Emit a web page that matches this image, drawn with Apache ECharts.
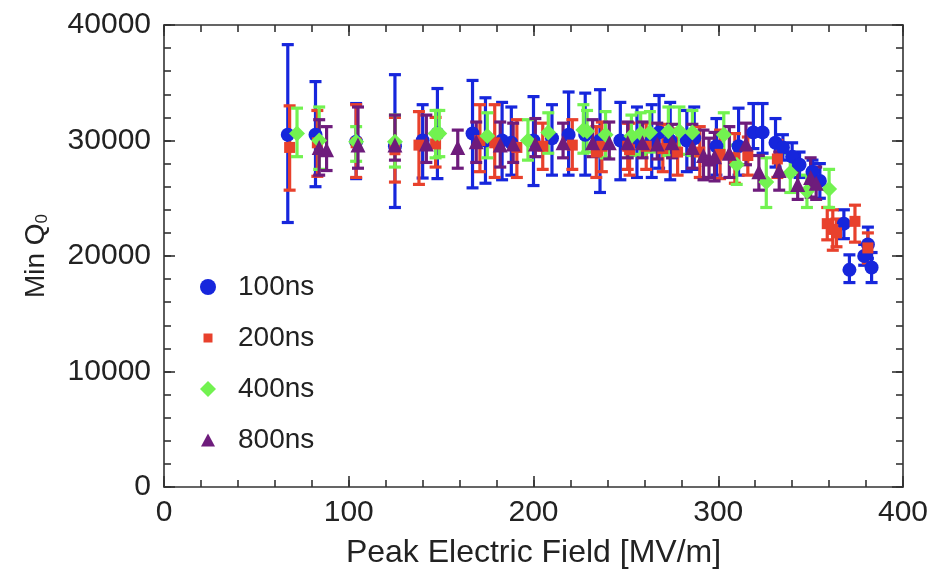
<!DOCTYPE html>
<html>
<head>
<meta charset="utf-8">
<script src="https://cdn.jsdelivr.net/npm/echarts@6/dist/echarts.min.js"></script>
<style>
html,body{margin:0;padding:0;background:#fff;}
#c{width:935px;height:577px;}
</style>
</head>
<body>
<div id="c"></div>
<script>
// ---- data: [field (MV/m), Q0, lower error end, upper error end]
const seriesNames = ['100ns', '200ns', '400ns', '800ns'];

const d100 = [
  [67, 30500, 22900, 38300], [82, 30500, 26000, 35100], [104, 29900, 26700, 33200],
  [125, 29500, 24200, 35700], [140, 30000, 26750, 33100], [148, 30600, 26700, 34500],
  [167, 30600, 25900, 35200], [174, 30000, 26300, 33700], [183, 30000, 26600, 33300],
  [188, 29800, 27000, 32900], [200, 30000, 26100, 33800], [210, 30200, 27000, 33100],
  [219, 30500, 27000, 34200], [228, 30500, 27000, 34100], [236, 30000, 25500, 34400],
  [247, 30000, 26600, 33300], [256, 29900, 26800, 32900], [264, 30000, 26800, 33100],
  [268, 30700, 27600, 33900], [274, 30000, 26600, 33300], [283, 30000, 27300, 32600],
  [287, 30200, 27500, 32900], [299, 29500, 27000, 31900], [311, 29500, 27000, 32800],
  [319, 30700, 29300, 33200], [324, 30700, 28900, 33200], [331, 29800, 27700, 31900],
  [335, 29400, 28300, 30500], [340, 28600, 27400, 29800], [344, 27900, 26800, 29000],
  [351, 27300, 26300, 28300], [355, 26500, 25000, 28000], [368, 22800, 21500, 24000],
  [371, 18800, 17700, 20100], [379, 20000, 19200, 21000], [381, 21000, 19800, 22500],
  [383, 19000, 17700, 20300]
];

const d200 = [
  [68, 29400, 25700, 33000], [83, 29800, 26900, 32600], [104, 29800, 26800, 33100],
  [125, 29200, 26400, 32000], [138, 29600, 26200, 32500], [147, 29700, 27700, 32000],
  [171, 30000, 27300, 33100], [179, 29800, 26800, 33100], [191, 29400, 26800, 31800],
  [205, 29500, 27500, 31500], [221, 29600, 27500, 31800], [234, 29000, 26800, 31200],
  [237, 29500, 27300, 31600], [251, 29500, 27500, 31500], [252, 29200, 27000, 31500],
  [261, 29500, 27500, 31500], [270, 29300, 27300, 31400], [278, 29000, 27000, 31000],
  [290, 29000, 26800, 31200], [301, 28800, 26700, 30900], [309, 28500, 26300, 30600],
  [316, 28700, 27000, 30300], [332, 28400, 26800, 30000], [359, 22800, 21400, 24200],
  [362, 22300, 20500, 24000], [364, 22000, 20800, 23200], [374, 23000, 21200, 24400],
  [381, 20700, 19400, 22000]
];

const d400 = [
  [72, 30600, 28600, 32800], [84, 30000, 27500, 32900], [104, 29900, 28200, 31200],
  [125, 29900, 27700, 32200], [147, 30600, 28500, 32600], [149, 30600, 28600, 32600],
  [175, 30400, 28500, 32400], [197, 30000, 28300, 31800], [208, 30700, 28900, 32400],
  [227, 30900, 28900, 33100], [229, 30800, 29000, 32600], [239, 30500, 28500, 32500],
  [253, 30400, 28700, 32200], [258, 30600, 28800, 32400], [263, 30700, 29000, 32500],
  [273, 30800, 28700, 32900], [279, 30800, 28800, 32900], [286, 30700, 28700, 32600],
  [303, 30500, 28700, 32400], [310, 27900, 26200, 29600], [326, 26400, 24200, 28500],
  [339, 27200, 25500, 28900], [348, 25600, 24200, 27000], [360, 25800, 24200, 27500]
];

const d800 = [
  [84, 29400, 27000, 31800], [88, 29200, 27400, 31200], [105, 29600, 27600, 32900],
  [125, 29600, 28300, 32200], [142, 29700, 28100, 32200], [159, 29400, 27600, 30900],
  [169, 29900, 28100, 31600], [182, 29600, 27700, 31600], [189, 29700, 28100, 31500],
  [201, 29700, 28600, 31900], [216, 29800, 28500, 31500], [232, 29800, 28600, 31800],
  [241, 29800, 28400, 31600], [251, 29800, 28500, 31600], [259, 29800, 28500, 31600],
  [267, 29700, 28400, 31500], [275, 29800, 28500, 31400], [286, 29400, 27600, 31400],
  [292, 28700, 26600, 30900], [295, 28400, 26800, 30200], [298, 28600, 26500, 30700],
  [306, 28900, 26800, 31200], [315, 29700, 27900, 31500], [322, 27300, 25700, 28700],
  [333, 27400, 25700, 29000], [343, 26200, 24900, 27600], [350, 26800, 25100, 28500],
  [353, 26300, 24900, 27700]
];

const xMin = 0, xMax = 400, xStep = 100, xMinorStep = 20;
const yMin = 0, yMax = 40000, yStep = 10000, yMinorStep = 2000;

// ---- styling / layout
const GRID = { left: 164, right: 32, top: 25, bottom: 90 };
const W = 935, H = 577;
const GW = W - GRID.left - GRID.right;   // plot width
const GH = H - GRID.top - GRID.bottom;   // plot height

const colors = ['#1626dc', '#e8412c', '#72f250', '#6e1c7c'];
const symbols = ['circle', 'rect', 'diamond', 'triangle'];
const legendIcons = ['circle', 'path://M0,0M16,16M3.5,3.5h9v9h-9z', 'diamond', 'path://M0,0M16,16M8,1.5L15,14.5H1z'];
const symSizes = [14, 11, 16, 15];
const FONT = '"Liberation Sans", Arial, sans-serif';
const TXT = '#222';
const AX = '#333';
const allData = [d100, d200, d400, d800];

function makeErr(color) {
  return function (params, api) {
    const x = api.value(0);
    const pLo = api.coord([x, api.value(2)]);
    const pHi = api.coord([x, api.value(3)]);
    const w = 6;
    const st = { stroke: color, lineWidth: 3.2 };
    return {
      type: 'group',
      children: [
        { type: 'line', shape: { x1: pLo[0], y1: pLo[1], x2: pHi[0], y2: pHi[1] }, style: st },
        { type: 'line', shape: { x1: pLo[0] - w, y1: pLo[1], x2: pLo[0] + w, y2: pLo[1] }, style: st },
        { type: 'line', shape: { x1: pHi[0] - w, y1: pHi[1], x2: pHi[0] + w, y2: pHi[1] }, style: st }
      ]
    };
  };
}

const series = [];
allData.forEach((d, i) => {
  series.push({
    type: 'custom',
    name: seriesNames[i] + '_err',
    xAxisIndex: 0, yAxisIndex: 0,
    renderItem: makeErr(colors[i]),
    encode: { x: 0, y: [2, 3] },
    data: d,
    silent: true,
    clip: false
  });
  series.push({
    type: 'scatter',
    name: seriesNames[i],
    xAxisIndex: 0, yAxisIndex: 0,
    symbol: symbols[i],
    symbolSize: symSizes[i],
    itemStyle: { color: colors[i], opacity: 1 },
    encode: { x: 0, y: 1 },
    data: d
  });
});

const lineOn = { show: true, onZero: false, lineStyle: { color: AX, width: 1.6 } };
const lineOff = { show: false, onZero: false };
const noTick = { show: false };
const tickOf = len => ({ show: true, inside: false, length: len, lineStyle: { color: AX, width: 1.6 } });

// tick-only axes, moved to the opposite edge with offset so their outward ticks point into the plot
function xTicks(pos, step, len) {
  return {
    type: 'value', min: xMin, max: xMax, interval: step, position: pos, offset: -GH,
    axisLine: lineOff, axisTick: tickOf(len), minorTick: { show: false },
    splitLine: { show: false }, axisLabel: { show: false }
  };
}
function yTicks(pos, step, len) {
  return {
    type: 'value', min: yMin, max: yMax, interval: step, position: pos, offset: -GW,
    axisLine: lineOff, axisTick: tickOf(len), minorTick: { show: false },
    splitLine: { show: false }, axisLabel: { show: false }
  };
}

const chart = echarts.init(document.getElementById('c'), null, { renderer: 'canvas' });
chart.setOption({
  animation: false,
  backgroundColor: '#fff',
  textStyle: { fontFamily: FONT },
  grid: Object.assign({ containLabel: false }, GRID),
  legend: {
    orient: 'vertical',
    left: 195,
    top: 268,
    itemWidth: 16,
    itemHeight: 16,
    itemGap: 23,
    textStyle: { fontSize: 28, color: TXT, fontFamily: FONT, padding: [0, 0, 0, 17] },
    data: seriesNames.map((n, i) => ({ name: n, icon: legendIcons[i] }))
  },
  xAxis: [
    {
      type: 'value', min: xMin, max: xMax, interval: xStep, position: 'bottom',
      name: 'Peak Electric Field [MV/m]', nameLocation: 'middle', nameGap: 50,
      nameTextStyle: { fontSize: 32, color: TXT, fontFamily: FONT },
      axisLine: lineOn, axisTick: noTick, minorTick: { show: false }, splitLine: { show: false },
      axisLabel: { show: true, fontSize: 30, color: TXT, margin: 11, fontFamily: FONT }
    },
    {
      type: 'value', min: xMin, max: xMax, interval: xStep, position: 'top',
      axisLine: lineOn, axisTick: noTick, minorTick: { show: false }, splitLine: { show: false },
      axisLabel: { show: false }
    },
    xTicks('top', xStep, 11),        // major ticks on bottom edge, pointing up
    xTicks('top', xMinorStep, 7),    // minor ticks on bottom edge
    xTicks('bottom', xStep, 11),     // major ticks on top edge, pointing down
    xTicks('bottom', xMinorStep, 7)  // minor ticks on top edge
  ],
  yAxis: [
    {
      type: 'value', min: yMin, max: yMax, interval: yStep, position: 'left',
      name: '{a|Min Q}{b|0}', nameLocation: 'middle', nameGap: 113, nameRotate: 90,
      nameTextStyle: {
        color: TXT, fontFamily: FONT,
        rich: {
          a: { fontSize: 28, color: TXT, fontFamily: FONT },
          b: { fontSize: 17, color: TXT, fontFamily: FONT, padding: [13, 0, 0, 0] }
        }
      },
      axisLine: lineOn, axisTick: noTick, minorTick: { show: false }, splitLine: { show: false },
      axisLabel: { show: true, fontSize: 30, color: TXT, margin: 13, fontFamily: FONT, formatter: v => String(v) }
    },
    {
      type: 'value', min: yMin, max: yMax, interval: yStep, position: 'right',
      axisLine: lineOn, axisTick: noTick, minorTick: { show: false }, splitLine: { show: false },
      axisLabel: { show: false }
    },
    yTicks('right', yStep, 11),       // major ticks on left edge, pointing right
    yTicks('right', yMinorStep, 7),   // minor ticks on left edge
    yTicks('left', yStep, 11),        // major ticks on right edge, pointing left
    yTicks('left', yMinorStep, 7)     // minor ticks on right edge
  ],
  series
});
</script>
</body>
</html>
